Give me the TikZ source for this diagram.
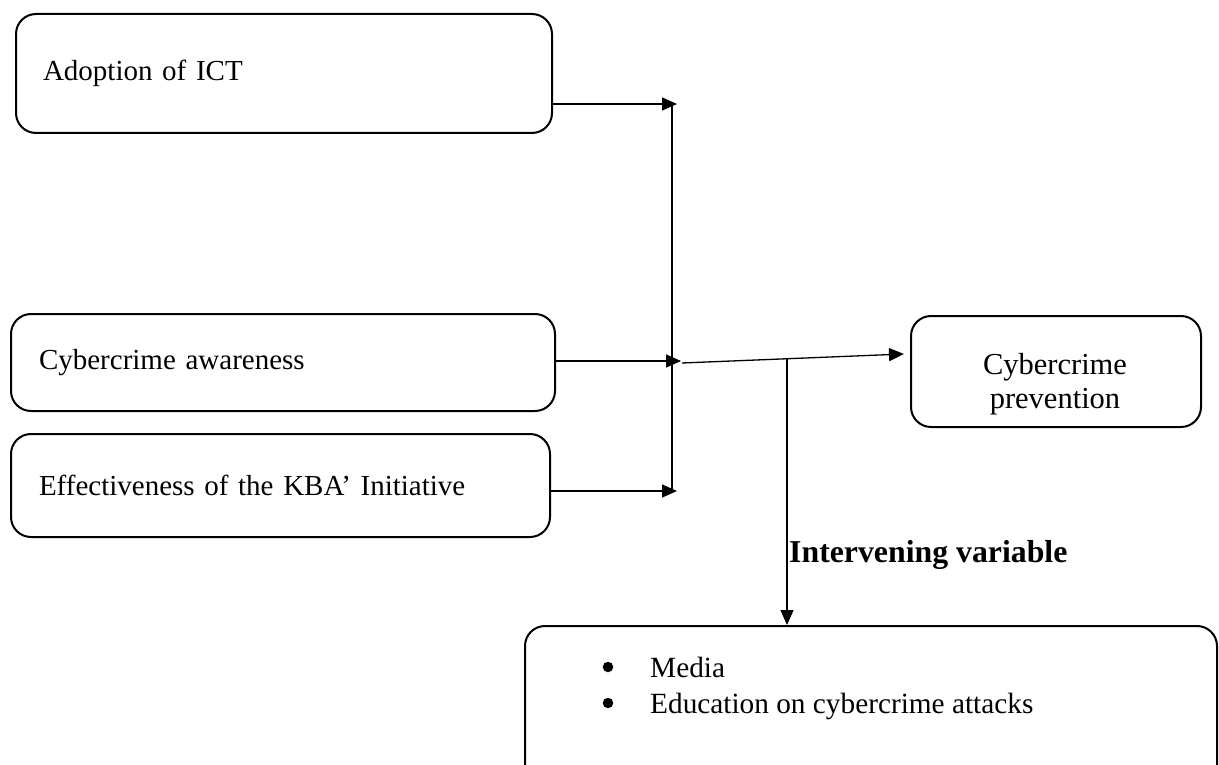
\documentclass[tikz,border=0pt]{standalone}
\usepackage{fontspec}
\setmainfont{Liberation Serif}
\usetikzlibrary{arrows.meta}
\begin{document}
\begin{tikzpicture}[x=1pt,y=-1pt,
 box/.style={draw, line width=2pt, rounded corners=20pt, font=\fontsize{29}{34}\selectfont},
 conn/.style={line width=1.3pt},
 arr/.style={conn,-{Triangle[length=15pt,width=13pt]}},
 bul/.style={circle, fill, inner sep=0pt, minimum size=10.5pt},
 txt/.style={font=\fontsize{29.3}{36}\selectfont, inner sep=0pt}]
\useasboundingbox (0,0) rectangle (1219,765);
\node[box, anchor=north west, minimum height=119pt, text width=482pt, inner xsep=27pt, align=left] (ict) at (15,13) {Adoption of ICT};
\node[box, anchor=north west, minimum height=97pt, text width=488pt, inner xsep=28pt, align=left] (aware) at (10,313) {Cybercrime awareness};
\node[box, anchor=north west, minimum height=103pt, text width=483pt, inner xsep=28pt, align=left] (kba) at (10,433) {Effectiveness of the KBA' Initiative};
\node[box, anchor=north west, minimum height=111pt, minimum width=290pt, inner sep=0pt] (prev) at (910,315) {};
\node[txt, align=center, font=\fontsize{30.5}{34}\selectfont] (prevt) at (1055,384) {Cybercrime\\prevention};
\node[box, anchor=north west, minimum height=170pt, minimum width=692pt, inner sep=0pt] (bot) at (524,625) {};
\node[txt, anchor=west, align=left] (list) at (650,688) {Media\\Education on cybercrime attacks};
\node[bul] (b1) at (608,667) {};
\node[bul] (b2) at (608,703) {};
\node[anchor=west, inner sep=0pt, font=\fontsize{31.8}{34}\selectfont\bfseries] (iv) at (789,555) {Intervening variable};
\coordinate (j1) at (677,104);
\coordinate (j2) at (681,361);
\coordinate (j3) at (677,491);
\coordinate (vt) at (672,104);
\coordinate (vb) at (672,491);
\coordinate (s) at (682,363);
\coordinate (pe) at (904,354);
\coordinate (ivs) at (787,359);
\draw[arr] (ict.east |- j1) -- (j1);
\draw[arr] (aware.east |- j2) -- (j2);
\draw[arr] (kba.east |- j3) -- (j3);
\draw[conn] (vt) -- (vb);
\draw[arr] (s) -- (pe);
\draw[arr] (ivs) -- (ivs |- bot.north);
\end{tikzpicture}
\end{document}
